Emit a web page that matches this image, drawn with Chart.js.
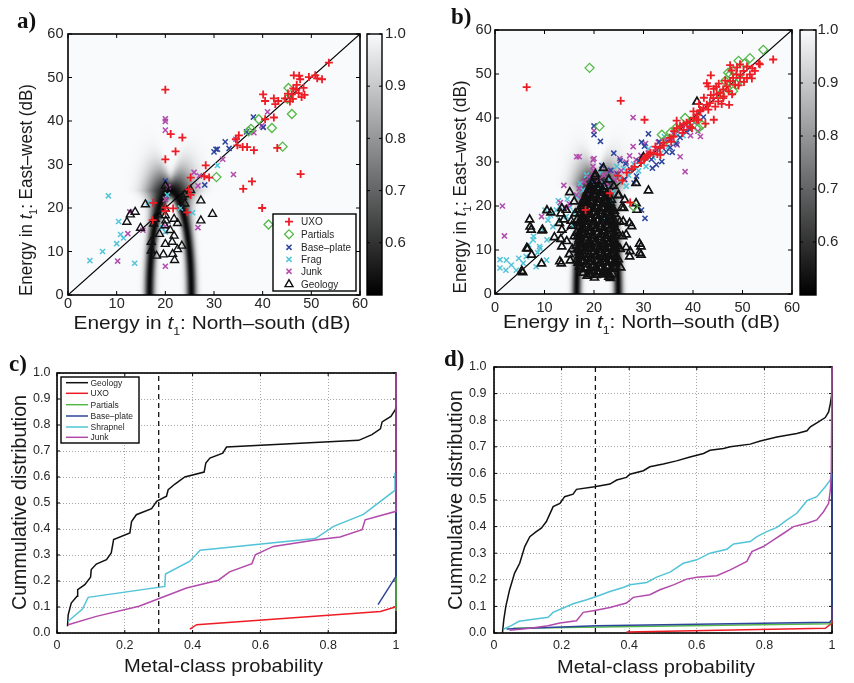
<!DOCTYPE html>
<html>
<head>
<meta charset="utf-8">
<script src="https://cdn.jsdelivr.net/npm/chart.js@4.4.1/dist/chart.umd.min.js"></script>
<style>
  html, body { margin: 0; padding: 0; background: #fff; }
  #wrap { position: relative; width: 854px; height: 683px; }
  #wrap canvas { position: absolute; left: 0; top: 0; }
</style>
</head>
<body>
<div id="wrap">
  <canvas id="pa" width="854" height="683"></canvas>
  <canvas id="pb" width="854" height="683"></canvas>
  <canvas id="pc" width="854" height="683"></canvas>
  <canvas id="pd" width="854" height="683"></canvas>
  <canvas id="cba" width="854" height="683"></canvas>
  <canvas id="cbb" width="854" height="683"></canvas>
</div>
<script>
// ---------- tick values / labels ----------
const energyTicks = [0, 10, 20, 30, 40, 50, 60];
const energyLabels = ['0', '10', '20', '30', '40', '50', '60'];
const cbarTicks = [0.6, 0.7, 0.8, 0.9, 1.0];
const cbarLabels = ['0.6', '0.7', '0.8', '0.9', '1.0'];
const probTicks = [0, 0.2, 0.4, 0.6, 0.8, 1];
const probLabels = ['0', '0.2', '0.4', '0.6', '0.8', '1'];
const cdfTicks = [0, 0.1, 0.2, 0.3, 0.4, 0.5, 0.6, 0.7, 0.8, 0.9, 1.0];
const cdfLabels = ['0.0', '0.1', '0.2', '0.3', '0.4', '0.5', '0.6', '0.7', '0.8', '0.9', '1.0'];

// ---------- panel a: [NS dB, EW dB] ----------
const aUxo = [[20,47.2],[21.1,37],[23.5,36.2],[22.1,33],[20,31.2],[28.3,29.8],[25.2,27],[28,27.3],[29,27],[24.8,24.3],[25.2,23],[24.5,19],[17.5,21.2],[20,20.1],[21.6,19.9],[17.4,17.2],[20,19.3],[35.1,36.7],[34.5,35.8],[34.8,34.4],[35.9,34],[36.8,34],[38.2,33.3],[36,24.4],[37.8,26.1],[39.9,20],[43,33.8],[47.8,27.8],[40.1,46.1],[40.5,44.6],[42.3,45.2],[42.6,43.9],[43.2,44.6],[44.6,45.2],[45.6,44.5],[46.2,45.1],[40.5,40.4],[42.3,40.8],[46.4,50.5],[47.5,50.4],[47.7,49.6],[49.5,50.1],[50.8,50.5],[51.2,49.8],[52.2,49.6],[53.6,53.4],[46.9,47.2],[47.4,46.4],[48.4,47.6],[48.6,46],[46.3,47.5],[46,46.1],[47,48.3],[45.2,46.3],[48,45.5]];
const aPartials = [[45.3,47.6],[45.1,45.1],[46,41.6],[39.2,40.4],[37.1,37.6],[37.6,38.2],[41.9,38.4],[44.1,34.1],[30.5,27.1],[41.2,16.2]];
const aBase = [[20,26.2],[30,32.9],[30.7,33.5],[32.3,35.2],[33.1,33.7],[28.1,25.3],[38.1,40.9],[40.1,38.6],[30.4,33.5],[36.7,37.5]];
const aFrag = [[8.3,22.8],[10.4,16.9],[10.8,13.9],[11.4,13.1],[10,11.8],[7.1,10],[4.5,7.9],[13.7,7.3],[20.4,23],[20,14.5],[25.6,18.9],[16.6,21.2],[30.7,29.8],[23.1,20],[19.3,15.5]];
const aJunk = [[20,40.5],[20,39.9],[20,37.9],[25.9,28.2],[27,27.4],[26.7,25.1],[31.8,31.2],[34,27.7],[41,42.1],[40.1,38.5],[38.2,37.3],[34.5,35.8],[12.3,14.1],[12.7,19.1],[10.2,7.8],[15.4,14.9],[20,6.6],[26.7,15.5],[20.6,24.9],[20,22],[20,15.8],[39.8,38.9]];
const aGeology = [[20,25.1],[15.9,20.8],[13.8,19.1],[12.8,18.5],[12.1,16.8],[14.9,15.4],[24,23.1],[24,21],[27.3,21.7],[27.3,17.1],[29.7,18.6],[20,19.8],[20,18.3],[20.1,17.1],[19.9,16],[18.5,18.5],[17.9,17.5],[21.8,17.5],[22.5,16.5],[18.8,14],[21,14.9],[21.4,12.2],[21.8,13.6],[20,11.7],[23.4,11.3],[17.1,12.2],[17.1,10.2],[18.2,9],[19.6,9.3],[21.5,9.4],[21.9,8],[22.5,10.5],[25.2,24.1],[23.5,22.6],[17.6,16.4]];

// ---------- panel b ----------
const bUxo = [[6.4,47.0],[25.4,43.9],[30.2,39.6],[56.2,53.3],[43.6,49.7],[27.3,20.8],[18.3,19.1],[23.2,22.9],[24.8,26.9],[26.6,27.6],[25.7,25.8],[30.0,30.6],[31.4,32.1],[33.4,31.6],[36.1,35.8],[36.7,39.4],[40.1,41.5],[44.2,39.6],[42.5,38.7],[47.3,43.0],[44.7,47.1],[47.5,52.0],[49.6,49.8],[51.9,49.0],[53.3,52.4],[50.9,51.7],[46.2,44.9],[39.4,38.0],[40.8,39.6],[41.5,41.8],[38.1,37.3],[34.1,33.7],[32.4,33.5],[30.7,31.2],[53.5,52.2],[52.5,50.7],[51.5,49.9],[49.5,52.2],[50.2,50.7],[50.9,49.1],[48.8,49.9],[49.5,49.1],[48.1,49.1],[47.5,48.4],[48.5,47.6],[46.8,47.2],[46.1,46.5],[47.2,46.1],[45.5,45.7],[44.8,45.4],[46.1,44.5],[44.1,44.5],[45.1,43.8],[43.4,43.4],[44.5,42.6],[42.8,43.0],[42.1,42.3],[43.1,41.9],[41.4,41.5],[40.8,40.8],[40.1,40.0],[41.1,39.6],[39.4,39.3],[38.7,38.9],[38.1,38.6],[37.4,38.1],[36.7,37.7],[35.3,35.5],[34.0,34.4],[33.3,33.2],[32.0,32.0],[31.0,31.7],[30.3,30.9],[39.8,37.7],[42.8,47.9],[43.1,47.2],[47.8,50.8],[48.9,51.5],[52.0,51.3],[46.5,48.5],[45.2,47.8],[44.2,46.6],[43.6,45.2],[42.2,44.6],[41.2,43.2],[37.9,36.6],[36.2,37.0],[35.6,34.6],[32.8,31.8],[29.5,29.8],[28.2,28.9],[27.6,28.4],[50.3,48.2],[49.2,47.4],[47.9,45.4],[45.8,43.2]];
const bPartials = [[19.1,51.4],[21.1,38.1],[28.0,19.9],[54.2,55.5],[51.5,53.6],[49.2,53.0],[48.1,50.7],[47.5,49.9],[48.8,47.6],[48.1,46.1],[46.5,48.4],[45.5,45.4],[41.8,38.4],[41.1,37.7],[38.4,40.0],[33.7,36.2],[34.7,35.1],[36.6,37.8],[47.1,50.3],[49.6,48.8],[50.4,52.4],[46.9,46.8],[39.6,39.2],[35.5,36.7]];
const bBase = [[20.0,38.2],[20.0,36.2],[21.3,34.7],[24.0,32.0],[25.3,30.3],[29.6,34.5],[30.3,17.2],[29.6,19.1],[33.7,30.1],[31.0,36.4],[30.2,33.6],[22.6,4.8],[21.6,29.2],[23.4,28.1],[26.4,29.6],[27.4,28.3],[28.6,26.8],[29.1,30.2],[31.6,30.6],[32.6,29.4],[34.6,32.3],[35.4,33.3],[36.6,34.2],[37.4,35.6],[38.6,36.9],[39.4,37.4],[42.1,40.2],[28.1,25.2],[19.4,25.8],[33.2,34.6],[35.8,32.2],[24.8,27.2],[37.8,38.4],[31.8,28.6],[26.2,26.0]];
const bFrag = [[1.0,7.8],[1.0,5.9],[2.3,7.7],[2.2,5.4],[3.3,6.6],[4.3,5.4],[5.7,7.0],[8.3,6.2],[10.4,7.7],[6.3,8.5],[7.8,13.1],[7.7,12.3],[9.0,10.8],[9.1,10.4],[10.5,12.3],[9.7,14.5],[10.7,16.8],[10.1,19.1],[12.4,19.1],[13.1,19.9],[13.1,16.8],[14.4,17.6],[15.1,19.8],[16.4,22.1],[17.8,23.6],[19.1,22.9],[20.5,24.4],[21.8,25.2],[23.2,25.9],[15.8,15.3],[11.7,15.3],[24.6,29.0],[26.0,28.5],[27.0,27.0],[28.0,29.5],[29.0,28.0],[30.5,29.0],[32.0,31.0],[33.5,32.0],[35.0,33.5],[36.5,34.5],[38.0,36.0],[31.0,33.0],[25.0,26.0],[22.5,24.0],[26.5,24.5],[23.5,21.0],[20.0,15.5],[19.0,12.0],[22.0,17.0],[18.5,27.0],[12.8,21.2],[11.2,17.9],[8.6,9.4],[6.8,11.2],[4.8,8.1],[14.6,21.6],[17.2,25.1],[21.4,27.6],[23.8,23.2],[16.1,18.4],[34.2,35.8],[36.9,36.1]];
const bJunk = [[1.5,20.0],[1.9,13.2],[13.9,24.7],[19.8,30.5],[19.8,29.0],[27.9,40.1],[20.0,37.1],[27.9,33.5],[17.0,31.2],[20.0,30.8],[38.4,27.8],[9.4,17.6],[16.5,31.2],[37.4,31.2],[41.5,35.8],[21.0,26.0],[22.0,27.0],[23.0,28.0],[24.5,27.5],[25.5,28.0],[26.5,30.0],[28.5,30.5],[29.5,31.5],[31.0,32.0],[32.5,33.0],[33.0,34.5],[34.5,35.0],[35.5,35.5],[36.0,36.5],[37.0,37.0],[38.5,38.5],[39.5,36.0],[41.0,37.0],[18.0,25.5],[17.0,24.0],[16.5,22.5],[17.5,21.5],[15.0,20.5],[19.0,26.5],[20.5,24.0],[14.5,19.5],[22.6,25.1],[24.2,25.9],[18.6,23.1],[27.2,31.4],[30.4,34.2],[33.8,33.4],[36.8,33.9],[39.2,38.1],[40.3,39.0],[21.6,22.8],[25.2,30.8],[13.2,20.8],[19.9,28.0]];
const bGeology = [
  [7.0,16.9],[7.1,15.3],[6.6,10.3],[9.6,14.6],[9.4,6.9],[13.4,6.9],[5.4,5.2],[13.3,12.5],[15.1,23.1],[20.3,27.2],[10.5,19.0],[13.3,18.3],[14.4,19.1],[13.0,16.1],[28.5,25.2],[28.5,20.6],[27.2,16.1],[29.2,11.4],[29.2,9.3],[26.5,10.6],[27.2,8.5],[26.5,13.5],[25.2,16.4],[7.3,14.6],[6.4,10.4],[7.4,8.9],[5.6,4.9],[9.5,14.4],[11.3,18.5],[13.1,7.4],[13.5,19.5],[13.9,16.9],[13.5,14.6],[12.0,12.9],[13.5,10.8],[20.2,26.7],[21.9,28.6],[31.0,23.5],[28.7,19.1],[26.2,21.4],[25.9,16.5],[27.6,15.4],[25.8,13.1],[27.3,9.7],[29.5,10.8],[29.5,8.9],[25.3,10.2],[23.3,3.6],[21.9,5.1],[19.8,5.1],[22.6,6.3],[40.8,43.7],[30.0,31.1],[14.5,12.0],[15.0,9.0],[15.5,15.5],[16.0,21.0],[24.0,24.5],[25.0,22.5],[26.0,19.5],[23.0,26.0],
  [15.6,10.2],[15.2,7.6],[16.0,13.1],[15.4,16.6],[25.4,6.0],[25.6,19.6],[24.9,22.4],[16.2,18.3],
  [18.6,4.1],[20.1,3.7],[21.5,4.4],[23.0,3.9],
  [17.4,5.6],[19.0,5.3],[20.6,5.8],[22.1,5.4],[23.6,5.7],
  [16.8,7.1],[18.3,6.8],[19.7,7.3],[21.1,6.9],[22.5,7.2],[23.9,6.9],
  [17.3,8.6],[18.8,8.3],[20.3,8.8],[21.7,8.4],[23.1,8.7],[24.5,8.5],
  [16.6,10.1],[18.0,9.8],[19.4,10.3],[20.9,9.9],[22.3,10.2],[23.7,9.8],
  [17.2,11.6],[18.7,11.3],[20.1,11.8],[21.5,11.4],[22.9,11.7],[24.3,11.4],
  [16.7,13.1],[18.2,12.8],[19.6,13.3],[21.0,12.9],[22.4,13.2],[23.8,12.9],
  [17.4,14.6],[18.9,14.3],[20.3,14.8],[21.7,14.4],[23.1,14.7],[24.5,14.4],
  [16.9,16.1],[18.4,15.8],[19.8,16.3],[21.2,15.9],[22.6,16.2],[24.0,15.9],
  [17.6,17.6],[19.0,17.3],[20.4,17.8],[21.8,17.4],[23.2,17.7],
  [17.0,19.1],[18.5,18.8],[19.9,19.3],[21.3,18.9],[22.7,19.2],[24.1,18.9],
  [17.7,20.6],[19.1,20.3],[20.5,20.8],[21.9,20.4],[23.3,20.7],
  [18.3,22.1],[19.7,21.8],[21.1,22.3],[22.5,21.9],
  [18.9,23.6],[20.3,23.3],[21.7,23.8],
  [19.6,25.1],[21.0,24.8],
  [17.8,4.8],[19.3,4.6],[20.8,5.0],[22.4,4.7],[23.8,4.5],
  [17.1,6.2],[18.6,6.0],[20.0,6.5],[21.4,6.1],[22.9,6.4],[24.2,6.2],
  [16.6,7.9],[18.0,7.6],[19.4,8.0],[20.9,7.7],[22.3,8.0],[23.6,7.7],[24.9,7.9],
  [17.0,9.4],[18.5,9.1],[19.9,9.5],[21.3,9.2],[22.7,9.5],[24.1,9.2],
  [16.4,10.9],[17.9,10.6],[19.3,11.0],[20.7,10.7],[22.1,11.0],[23.5,10.7],[24.8,10.9],
  [17.0,12.4],[18.4,12.1],[19.8,12.5],[21.2,12.2],[22.6,12.5],[24.0,12.2],
  [16.5,13.9],[17.9,13.6],[19.3,14.0],[20.7,13.7],[22.1,14.0],[23.5,13.7],[24.8,13.9],
  [17.1,15.4],[18.5,15.1],[19.9,15.5],[21.3,15.2],[22.7,15.5],[24.1,15.2],
  [16.6,16.9],[18.0,16.6],[19.4,17.0],[20.8,16.7],[22.2,17.0],[23.6,16.7],
  [17.2,18.4],[18.6,18.1],[20.0,18.5],[21.4,18.2],[22.8,18.5],[24.2,18.2],
  [17.4,19.9],[18.8,19.6],[20.2,20.0],[21.6,19.7],[23.0,20.0],
  [17.9,21.4],[19.3,21.1],[20.7,21.5],[22.1,21.2],[23.5,21.4],
  [18.5,22.9],[19.9,22.6],[21.3,23.0],[22.7,22.7],
  [19.2,24.4],[20.6,24.1],[22.0,24.4],
  [19.0,4.4],[20.4,4.3],[21.9,4.5],[23.3,4.2],
  [18.1,5.9],[19.7,6.0],[21.2,5.8],[22.8,6.0],
  [17.5,7.4],[18.9,7.3],[20.4,7.5],[21.8,7.4],[23.2,7.6],[24.5,7.3],
  [17.8,8.9],[19.2,9.0],[20.6,8.8],[22.0,9.0],[23.5,8.9],
  [17.3,10.4],[18.7,10.5],[20.1,10.3],[21.6,10.5],[23.0,10.4],[24.4,10.3],
  [17.7,11.9],[19.1,12.0],[20.5,11.8],[21.9,12.0],[23.3,11.9],
  [17.2,13.4],[18.6,13.5],[20.0,13.3],[21.4,13.5],[22.9,13.4],[24.3,13.3],
  [17.8,14.9],[19.2,15.0],[20.6,14.8],[22.0,15.0],[23.4,14.9],
  [17.3,16.4],[18.7,16.5],[20.1,16.3],[21.5,16.5],[22.9,16.4],[24.3,16.3],
  [17.9,17.9],[19.3,18.0],[20.7,17.8],[22.1,18.0],[23.5,17.9],
  [17.7,19.4],[19.1,19.5],[20.5,19.3],[22.0,19.5],[23.4,19.4],
  [18.2,20.9],[19.6,21.0],[21.0,20.8],[22.4,21.0],
  [18.8,22.4],[20.2,22.5],[21.6,22.3],
  [19.5,23.9],[20.9,24.0]
];

// background decision ring (centre / half-axes / band width, dB)
const aRing = {cx: 21.05, cy: 0, ax: 4.3, by: 24.0, w: 1.05, wTop: 1.8, depth: 0.96};
const bRing = {cx: 20.7, cy: 0, ax: 4.2, by: 25.0, w: 0.95, wTop: 1.6, depth: 0.96};

// ---------- panel c: [probability, cumulative] ----------
const cGeology = [[0.031,0.026],[0.033,0.07],[0.042,0.115],[0.059,0.141],[0.061,0.167],[0.082,0.186],[0.099,0.215],[0.101,0.244],[0.116,0.265],[0.146,0.282],[0.16,0.308],[0.167,0.359],[0.215,0.385],[0.22,0.429],[0.234,0.455],[0.279,0.478],[0.294,0.506],[0.323,0.526],[0.328,0.551],[0.348,0.573],[0.377,0.6],[0.434,0.619],[0.439,0.654],[0.451,0.673],[0.489,0.692],[0.5,0.715],[0.89,0.741],[0.929,0.763],[0.954,0.785],[0.959,0.812],[0.985,0.833],[0.998,0.859],[1,0.87]];
const cUxo = [[0.392,0.015],[0.412,0.032],[0.954,0.083],[0.998,0.1],[1,0.1]];
const cPartials = [[1,0.085],[1,0.22]];
const cBase = [[0.947,0.109],[1,0.218],[1,0.5]];
const cShrapnel = [[0.033,0.045],[0.075,0.092],[0.092,0.137],[0.318,0.179],[0.32,0.227],[0.392,0.276],[0.422,0.318],[0.762,0.363],[0.816,0.41],[0.904,0.456],[0.995,0.547],[0.997,0.615]];
const cJunk = [[0.033,0.032],[0.116,0.064],[0.242,0.103],[0.382,0.173],[0.476,0.203],[0.509,0.235],[0.575,0.267],[0.585,0.301],[0.638,0.333],[0.767,0.359],[0.835,0.369],[0.9,0.397],[0.909,0.435],[1,0.468],[1,1]];

// ---------- panel d ----------
const dGeology = [[0.025,0],[0.029,0.05],[0.035,0.1],[0.046,0.162],[0.061,0.225],[0.076,0.262],[0.091,0.325],[0.106,0.362],[0.125,0.381],[0.14,0.394],[0.155,0.419],[0.175,0.475],[0.195,0.4875],[0.209,0.5125],[0.234,0.522],[0.244,0.54],[0.298,0.55],[0.343,0.56],[0.363,0.575],[0.392,0.585],[0.402,0.597],[0.442,0.61],[0.461,0.625],[0.501,0.635],[0.54,0.647],[0.58,0.662],[0.62,0.675],[0.639,0.687],[0.679,0.694],[0.699,0.7],[0.758,0.71],[0.788,0.722],[0.837,0.737],[0.896,0.75],[0.926,0.76],[0.936,0.775],[0.96,0.794],[0.98,0.81],[0.99,0.831],[0.995,0.862],[0.998,0.887],[1,0.9]];
const dUxo = [[0.392,0.004],[0.98,0.0175],[1,0.0375],[1,0.1]];
const dPartials = [[0.056,0.0175],[0.993,0.035],[1,0.05]];
const dBase = [[0.037,0.015],[0.303,0.0275],[0.993,0.04],[1,0.05],[1,0.6]];
const dShrapnel = [[0.029,0.015],[0.051,0.0275],[0.074,0.044],[0.16,0.059],[0.175,0.0775],[0.205,0.094],[0.234,0.11],[0.274,0.125],[0.303,0.1375],[0.343,0.156],[0.382,0.171],[0.402,0.181],[0.452,0.19],[0.481,0.21],[0.521,0.229],[0.56,0.262],[0.6,0.275],[0.639,0.3],[0.689,0.315],[0.709,0.335],[0.758,0.344],[0.778,0.362],[0.807,0.381],[0.837,0.397],[0.867,0.425],[0.896,0.45],[0.926,0.4975],[0.955,0.5125],[0.98,0.55],[0.995,0.575],[0.998,0.6]];
const dJunk = [[0.046,0.01],[0.106,0.0175],[0.16,0.0275],[0.195,0.0375],[0.244,0.046],[0.264,0.0775],[0.298,0.085],[0.343,0.096],[0.392,0.1125],[0.412,0.134],[0.461,0.144],[0.491,0.1625],[0.531,0.181],[0.57,0.2025],[0.6,0.21],[0.659,0.215],[0.699,0.2375],[0.728,0.256],[0.748,0.269],[0.763,0.306],[0.797,0.325],[0.827,0.35],[0.857,0.375],[0.886,0.4],[0.926,0.4125],[0.955,0.425],[0.975,0.456],[0.99,0.4875],[0.995,0.5375],[0.998,0.6],[1,1]];
const threshold = 0.3;

// ---------- styling ----------
const FONT = '"Liberation Sans", Arial, Helvetica, sans-serif';
const W = 854, H = 683;
Chart.defaults.font.family = FONT;
Chart.defaults.animation = false;

const RED = '#ee1d25', GREEN = '#55b948', BLUE = '#2d459c', CYAN = '#53c4d8', MAG = '#b24aab';
const MARK = {
  uxo: {label: 'UXO', pointStyle: 'cross', radius: 4, bw: 1.8, color: RED},
  partials: {label: 'Partials', pointStyle: 'rectRot', radius: 4.5, bw: 1.3, color: GREEN},
  base: {label: 'Base\u2013plate', pointStyle: 'crossRot', radius: 3.6, bw: 1.5, color: BLUE},
  frag: {label: 'Frag', pointStyle: 'crossRot', radius: 3.6, bw: 1.5, color: CYAN},
  junk: {label: 'Junk', pointStyle: 'crossRot', radius: 3.6, bw: 1.5, color: MAG},
  geology: {label: 'Geology', pointStyle: 'triangle', radius: 4.6, bw: 1.4, color: '#111'}
};

function pts(list) { return list.map(p => ({x: p[0], y: p[1]})); }

function markSet(list, m, order, bw) {
  return {label: m.label, data: pts(list), showLine: false, order,
    pointStyle: m.pointStyle, pointRadius: m.radius, pointBorderWidth: bw || m.bw,
    pointBorderColor: m.color, pointBackgroundColor: 'rgba(0,0,0,0)'};
}

function lineSet(list, color, order, width, dash, clip) {
  return {data: pts(list), showLine: true, order, borderColor: color, borderWidth: width || 1.5,
    borderDash: dash || [], pointRadius: 0, fill: false, tension: 0, clip: clip === undefined ? 0 : clip};
}

function axes(xr, yr, tickSize, padX, padY, grid) {
  const g = grid ? {display: true, drawTicks: false, color: '#a6a6a6', lineWidth: 1}
                 : {display: false, drawTicks: false};
  return {
    x: {type: 'linear', min: xr.ticks[0], max: xr.ticks[xr.ticks.length - 1],
      afterBuildTicks: s => { s.ticks = xr.ticks.map(v => ({value: v})); },
      afterFit: s => { s.height = 30; },
      ticks: {autoSkip: false, maxRotation: 0, padding: padX, color: '#262626',
        font: {size: tickSize}, callback: (v, i) => xr.labels[i]},
      grid: g, border: {display: false, dash: [1, 2]}},
    y: {type: 'linear', min: yr.ticks[0], max: yr.ticks[yr.ticks.length - 1],
      afterBuildTicks: s => { s.ticks = yr.ticks.map(v => ({value: v})); },
      afterFit: s => { s.width = 50; },
      ticks: {autoSkip: false, padding: padY, color: '#262626',
        font: {size: tickSize}, callback: (v, i) => yr.labels[i]},
      grid: g, border: {display: false, dash: [1, 2]}}
  };
}

// per-canvas decoration settings (kept outside Chart options)
const DECO = {};

function drawRich(ctx, parts, size, x, y, rotated, len) {
  ctx.save();
  ctx.translate(x, y);
  if (rotated) ctx.rotate(-Math.PI / 2);
  const fontOf = p => (p[1] === 'i' ? 'italic ' : '') + (p[1] === 's' ? Math.round(size * 0.62) : size) + 'px ' + FONT;
  let total = 0;
  parts.forEach(p => { ctx.font = fontOf(p); total += ctx.measureText(p[0]).width; });
  if (len) ctx.scale(len / total, 1);
  ctx.fillStyle = '#1a1a1a';
  ctx.textBaseline = 'alphabetic';
  let cx = -total / 2;
  parts.forEach(p => {
    ctx.font = fontOf(p);
    ctx.fillText(p[0], cx, p[1] === 's' ? size * 0.3 : 0);
    cx += ctx.measureText(p[0]).width;
  });
  ctx.restore();
}

function ringValue(xv, yv, r) {
  const dx = (xv - r.cx) / r.ax, dy = (yv - r.cy) / r.by;
  const rr = Math.hypot(dx, dy) || 1e-6;
  const g = Math.hypot(dx / r.ax, dy / r.by) / rr;
  const d = (rr - 1) / g;
  const lift = Math.min(1, Math.max(0, yv / r.by));
  const wd = r.w + r.wTop * Math.pow(lift, 8);
  return 1 - 0.5 * r.depth * Math.exp(-(d * d) / (wd * wd));
}

function drawRing(chart, r) {
  const {ctx, chartArea: a, scales: {x, y}} = chart;
  const w = Math.ceil(a.right - a.left), h = Math.ceil(a.bottom - a.top);
  const off = document.createElement('canvas');
  off.width = w; off.height = h;
  const octx = off.getContext('2d');
  const img = octx.createImageData(w, h);
  for (let j = 0; j < h; j++) {
    const yv = y.getValueForPixel(a.top + j + 0.5);
    for (let i = 0; i < w; i++) {
      const xv = x.getValueForPixel(a.left + i + 0.5);
      const t = (ringValue(xv, yv, r) - 0.5) / 0.5;
      const k = 4 * (j * w + i);
      img.data[k] = 248 * t; img.data[k + 1] = 250 * t; img.data[k + 2] = 252 * t; img.data[k + 3] = 255;
    }
  }
  octx.putImageData(img, 0, 0);
  ctx.drawImage(off, a.left, a.top);
}

function drawCbar(chart) {
  const {ctx, chartArea: a, scales: {y}} = chart;
  const g = ctx.createLinearGradient(0, y.getPixelForValue(0.5), 0, y.getPixelForValue(1));
  g.addColorStop(0, 'rgb(0,0,0)');
  g.addColorStop(1, 'rgb(248,250,252)');
  ctx.save();
  ctx.fillStyle = g;
  ctx.fillRect(a.left, a.top, a.right - a.left, a.bottom - a.top);
  ctx.restore();
}

function drawMarker(ctx, m, x, y) {
  ctx.save();
  ctx.strokeStyle = m.color; ctx.fillStyle = 'rgba(0,0,0,0)'; ctx.lineWidth = m.bw;
  if (Chart.helpers && Chart.helpers.drawPoint) {
    Chart.helpers.drawPoint(ctx, {pointStyle: m.pointStyle, radius: m.radius, rotation: 0, borderWidth: m.bw}, x, y);
  }
  ctx.restore();
}

function drawLegend(ctx, L) {
  ctx.save();
  ctx.fillStyle = '#fff';
  ctx.fillRect(L.x0, L.y0, L.x1 - L.x0, L.y1 - L.y0);
  ctx.strokeStyle = '#000'; ctx.lineWidth = 1.4;
  ctx.strokeRect(L.x0, L.y0, L.x1 - L.x0, L.y1 - L.y0);
  ctx.font = L.font + 'px ' + FONT;
  ctx.textBaseline = 'middle';
  L.rows.forEach((m, i) => {
    const yy = L.rowY[i];
    if (L.lines) {
      ctx.strokeStyle = m.color; ctx.lineWidth = 1.5;
      ctx.beginPath(); ctx.moveTo(L.lx0, yy); ctx.lineTo(L.lx1, yy); ctx.stroke();
    } else {
      drawMarker(ctx, m, L.mx, yy);
    }
    ctx.fillStyle = '#262626';
    ctx.fillText(m.label, L.tx, yy + 0.5);
  });
  ctx.restore();
}

function inwardTicks(ctx, chart, o) {
  const a = chart.chartArea, sx = chart.scales.x, sy = chart.scales.y;
  ctx.save();
  ctx.strokeStyle = '#000'; ctx.lineWidth = 1;
  ctx.beginPath();
  (o.xt || []).forEach(v => {
    const p = sx.getPixelForValue(v);
    ctx.moveTo(p, a.bottom); ctx.lineTo(p, a.bottom - o.tl);
    ctx.moveTo(p, a.top); ctx.lineTo(p, a.top + o.tl);
  });
  (o.yt || []).forEach(v => {
    const p = sy.getPixelForValue(v);
    ctx.moveTo(a.left, p); ctx.lineTo(a.left + o.tl, p);
    ctx.moveTo(a.right, p); ctx.lineTo(a.right - o.tl, p);
  });
  ctx.stroke();
  ctx.restore();
}

function drawFrame(chart, o) {
  const {ctx, chartArea: a} = chart;
  inwardTicks(ctx, chart, o);
  ctx.save();
  ctx.strokeStyle = '#000'; ctx.lineWidth = o.frame || 1.6;
  ctx.strokeRect(a.left, a.top, a.right - a.left, a.bottom - a.top);
  ctx.restore();
}

const decoPlugin = {
  id: 'decoPlugin',
  beforeDatasetsDraw(chart) {
    const o = DECO[chart.canvas.id]; if (!o) return;
    if (o.ring) drawRing(chart, o.ring);
    if (o.cbar) drawCbar(chart);
    if (o.frameFirst) drawFrame(chart, o);
  },
  afterDatasetsDraw(chart) {
    const o = DECO[chart.canvas.id]; if (!o) return;
    if (!o.frameFirst) drawFrame(chart, o);
    if (o.legend) drawLegend(chart.ctx, o.legend);
  },
  afterDraw(chart) {
    const o = DECO[chart.canvas.id]; if (!o) return;
    const ctx = chart.ctx;
    if (o.xTitle) drawRich(ctx, o.xTitle.parts, o.xTitle.size, o.xTitle.x, o.xTitle.y, false, o.xTitle.len);
    if (o.yTitle) drawRich(ctx, o.yTitle.parts, o.yTitle.size, o.yTitle.x, o.yTitle.y, true, o.yTitle.len);
    if (o.letter) {
      ctx.save();
      ctx.font = 'bold 23px "Liberation Serif", "DejaVu Serif", serif';
      ctx.fillStyle = '#111'; ctx.textBaseline = 'alphabetic';
      ctx.fillText(o.letter.t, o.letter.x, o.letter.y);
      ctx.restore();
    }
  }
};
Chart.register(decoPlugin);

function padFor(b) {
  return {left: b.L - 50, top: b.T, right: W - b.R, bottom: H - b.B - 30};
}

function panel(id, box, datasets, xr, yr, tickSize, padX, padY, grid) {
  return new Chart(document.getElementById(id), {
    type: 'scatter',
    data: {datasets},
    options: {
      responsive: false, animation: false, events: [],
      layout: {padding: padFor(box)},
      plugins: {legend: {display: false}, tooltip: {enabled: false}},
      scales: axes(xr, yr, tickSize, padX, padY, grid)
    }
  });
}

function colorbar(id, box, pad) {
  return new Chart(document.getElementById(id), {
    type: 'scatter',
    data: {datasets: [{data: []}]},
    options: {
      responsive: false, animation: false, events: [],
      layout: {padding: {left: box.L, top: box.T, right: W - box.R - 40, bottom: H - box.B}},
      plugins: {legend: {display: false}, tooltip: {enabled: false}},
      scales: {
        x: {display: false, min: 0, max: 1},
        y: {position: 'right', min: 0.5, max: 1.0,
          afterBuildTicks: s => { s.ticks = cbarTicks.map(v => ({value: v})); },
          afterFit: s => { s.width = 40; },
          ticks: {padding: pad, color: '#262626', font: {size: 15}, callback: (v, i) => cbarLabels[i]},
          grid: {display: false, drawTicks: false}, border: {display: false}}
      }
    }
  });
}

const energyX = {ticks: energyTicks, labels: energyLabels};
const probX = {ticks: probTicks, labels: probLabels};
const cdfY = {ticks: cdfTicks, labels: cdfLabels};
const ewTitle = [['Energy in ', 'n'], ['t', 'i'], ['1', 's'], [': East\u2013west (dB)', 'n']];
const nsTitle = [['Energy in ', 'n'], ['t', 'i'], ['1', 's'], [': North\u2013south (dB)', 'n']];
const cdTitleX = [['Metal-class probability', 'n']];
const cdTitleY = [['Cummulative distribution', 'n']];
const markRows = [MARK.uxo, MARK.partials, MARK.base, MARK.frag, MARK.junk, MARK.geology];

function scatterSets(d, geoBw) {
  return [
    lineSet([[0, 0], [60, 60]], '#000', 10, 1.2),
    markSet(d.frag, MARK.frag, 6),
    markSet(d.junk, MARK.junk, 5),
    markSet(d.base, MARK.base, 4),
    markSet(d.geology, MARK.geology, 3, geoBw),
    markSet(d.partials, MARK.partials, 2),
    markSet(d.uxo, MARK.uxo, 1)
  ];
}

function cdfSets(d) {
  return [
    lineSet([[threshold, 0], [threshold, 1]], '#111', 9, 1.3, [5, 4]),
    lineSet(d.uxo, RED, 6, 1.5, null, 3),
    lineSet(d.partials, GREEN, 5, 1.5, null, 3),
    lineSet(d.base, BLUE, 4, 1.5, null, 3),
    lineSet(d.geology, '#111', 3, 1.5, null, 3),
    lineSet(d.shrapnel, CYAN, 2, 1.5, null, 3),
    lineSet(d.junk, MAG, 1, 1.5, null, 3)
  ];
}

// ----- panel a -----
const boxA = {L: 68, R: 360, T: 34, B: 295};
DECO.pa = {ring: aRing, xt: energyTicks, yt: energyTicks, tl: 4, frame: 1.6,
  xTitle: {parts: nsTitle, size: 18.5, x: 212, y: 329, len: 277},
  yTitle: {parts: ewTitle, size: 18, x: 32, y: 190, len: 212},
  letter: {t: 'a)', x: 17, y: 28},
  legend: {x0: 273, y0: 214, x1: 356, y1: 291, font: 10, mx: 289, tx: 301,
    rowY: [221.7, 234.3, 247.3, 259.3, 271.3, 284.3], rows: markRows}};
panel('pa', boxA, scatterSets({uxo: aUxo, partials: aPartials, base: aBase, frag: aFrag, junk: aJunk, geology: aGeology}),
  energyX, energyX, 14.5, 0, 4.5, false);

// ----- panel b -----
const boxB = {L: 495, R: 792, T: 30, B: 294};
DECO.pb = {ring: bRing, xt: energyTicks, yt: energyTicks, tl: 4, frame: 1.6,
  xTitle: {parts: nsTitle, size: 18.5, x: 641.5, y: 328, len: 277},
  yTitle: {parts: ewTitle, size: 18, x: 466, y: 187, len: 213},
  letter: {t: 'b)', x: 451, y: 24}};
panel('pb', boxB, scatterSets({uxo: bUxo, partials: bPartials, base: bBase, frag: bFrag, junk: bJunk, geology: bGeology}, 1.7),
  energyX, energyX, 14.5, 5, 3.3, false);

// ----- colorbars -----
DECO.cba = {cbar: true, yt: cbarTicks, tl: 3, frame: 1.4};
colorbar('cba', {L: 367, R: 382, T: 34, B: 295}, 3);
DECO.cbb = {cbar: true, yt: cbarTicks, tl: 3, frame: 1.4};
colorbar('cbb', {L: 800, R: 816, T: 30, B: 295}, 1.5);

// ----- panel c -----
const boxC = {L: 57, R: 396, T: 373, B: 633};
DECO.pc = {xt: probTicks, yt: cdfTicks, tl: 3, frame: 1.6, frameFirst: true,
  xTitle: {parts: cdTitleX, size: 19, x: 223.5, y: 672, len: 199},
  yTitle: {parts: cdTitleY, size: 19.5, x: 26, y: 502.5, len: 215},
  letter: {t: 'c)', x: 9, y: 371},
  legend: {x0: 61, y0: 377, x1: 139, y1: 443, font: 8.5, lines: true, lx0: 66, lx1: 88, tx: 90.5,
    rowY: [382.7, 393.3, 404.7, 416, 427, 437.3],
    rows: [{label: 'Geology', color: '#111'}, {label: 'UXO', color: RED}, {label: 'Partials', color: GREEN},
      {label: 'Base\u2013plate', color: BLUE}, {label: 'Shrapnel', color: CYAN}, {label: 'Junk', color: MAG}]}};
panel('pc', boxC, cdfSets({geology: cGeology, uxo: cUxo, partials: cPartials, base: cBase, shrapnel: cShrapnel, junk: cJunk}),
  probX, cdfY, 12.5, 5.5, 6.6, true);

// ----- panel d -----
const boxD = {L: 494, R: 832, T: 367, B: 633};
DECO.pd = {xt: probTicks, yt: cdfTicks, tl: 3, frame: 1.6, frameFirst: true,
  xTitle: {parts: cdTitleX, size: 19, x: 656, y: 673, len: 198},
  yTitle: {parts: cdTitleY, size: 19.5, x: 462, y: 500, len: 220},
  letter: {t: 'd)', x: 444, y: 366}};
panel('pd', boxD, cdfSets({geology: dGeology, uxo: dUxo, partials: dPartials, base: dBase, shrapnel: dShrapnel, junk: dJunk}),
  probX, cdfY, 12.5, 5.5, 7.6, true);
</script>
</body>
</html>
